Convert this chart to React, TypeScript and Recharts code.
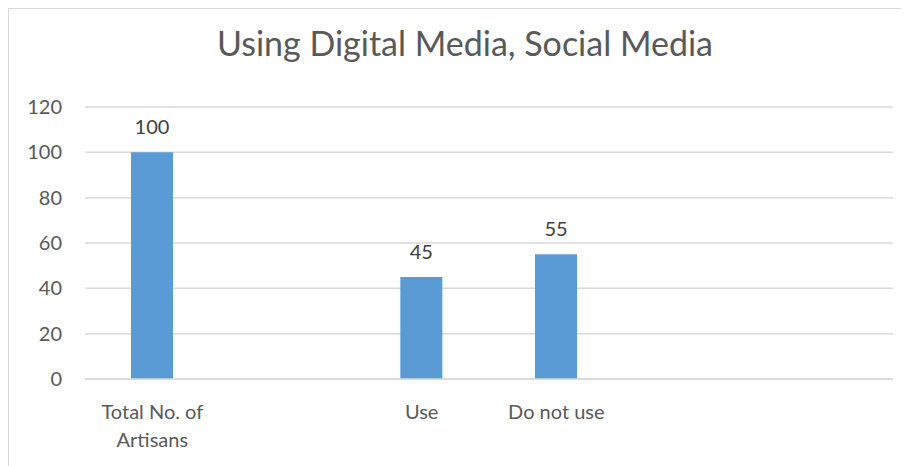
import React from 'react';
import { BarChart, Bar, XAxis, YAxis, CartesianGrid, LabelList, Text } from 'recharts';

// blank slots keep the empty category positions seen in the original chart
const categories = ['Total No. of Artisans', ' ', 'Use', 'Do not use', '  ', '   '];
const artisans = [100, null, 45, 55, null, null];
const yTicks = [0, 20, 40, 60, 80, 100, 120];

const data = categories.map((name, i) => ({ name, value: artisans[i] }));

const font = 'Lato, "Open Sans", sans-serif';

const XTick = (props: any) => {
  const { x, y, payload } = props;
  return (
    <Text
      x={x}
      y={y + 24}
      width={105}
      textAnchor="middle"
      verticalAnchor="start"
      lineHeight={28}
      fill="#595959"
      fontSize={20}
      fontFamily={font}
    >
      {payload.value}
    </Text>
  );
};

export default function App() {
  return (
    <div style={{ width: 901, height: 470, border: '1px solid #d9d9d9', background: '#fff' }}>
      <BarChart
        width={900}
        height={458}
        data={data}
        margin={{ top: 98, right: 16, left: 0, bottom: 0 }}
      >
        <text x={456} y={47} textAnchor="middle" fontSize={34} fill="#595959" fontFamily={font}>
          Using Digital Media, Social Media
        </text>
        <CartesianGrid vertical={false} stroke="#d9d9d9" strokeWidth={1.5} />
        <XAxis
          dataKey="name"
          height={88}
          tickLine={false}
          tickSize={0}
          axisLine={{ stroke: '#d9d9d9', strokeWidth: 1.5 }}
          tick={<XTick />}
          interval={0}
        />
        <YAxis
          width={76}
          domain={[0, 120]}
          ticks={yTicks}
          axisLine={false}
          tickLine={false}
          tickSize={0}
          tickMargin={23}
          tick={{ fill: '#595959', fontSize: 20, fontFamily: font }}
        />
        <Bar dataKey="value" fill="#5b9bd5" barSize={42} isAnimationActive={false}>
          <LabelList
            dataKey="value"
            position="top"
            offset={18}
            fill="#404040"
            fontSize={20}
            fontFamily={font}
          />
        </Bar>
      </BarChart>
    </div>
  );
}
